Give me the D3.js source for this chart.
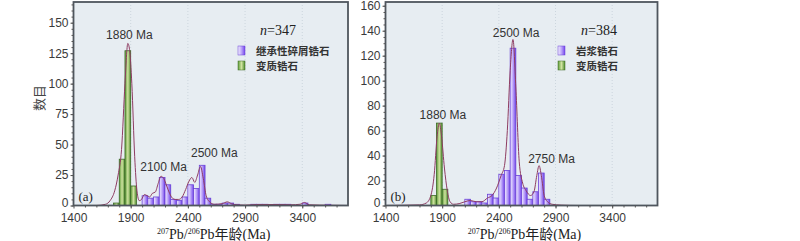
<!DOCTYPE html>
<html>
<head>
<meta charset="utf-8">
<script src="https://cdn.jsdelivr.net/npm/d3@7"></script>
<style>
  body { margin: 0; background: white; }
</style>
</head>
<body>
<div id="container"></div>
<script>
// ---- data ----
let binWidth = 50;

// panel (a)
let metaBinsA = [1750, 1800, 1850, 1900];
let metaCountsA = [2, 38, 127, 16];
let detritalBinsA = [2000, 2050, 2100, 2150, 2200, 2250, 2300, 2350, 2400, 2450, 2500, 2550, 2600, 2650, 2700, 2750, 2800, 2950, 3000, 3050, 3150, 3200, 3250, 3400, 3600];
let detritalCountsA = [8, 6, 7, 23, 17, 5, 4, 7, 17, 14, 33, 6, 1, 1, 2, 2, 1, 1, 1, 1, 1, 1, 1, 2, 1];
let curveAgesA = [1400, 1600, 1680, 1720, 1760, 1790, 1820, 1850, 1875, 1890, 1910, 1935, 1955, 1975, 1995, 2020, 2045, 2065, 2090, 2115, 2140, 2165, 2190, 2215, 2240, 2265, 2290, 2320, 2350, 2380, 2410, 2435, 2460, 2485, 2510, 2535, 2560, 2590, 2630, 2700, 2745, 2780, 2830, 2900, 3000, 3100, 3200, 3300, 3380, 3420, 3460, 3550, 3800];
let curveValuesA = [0, 0, 1, 4, 12, 25, 46, 100, 133, 128, 100, 40, 12, 4, 5, 9, 8, 7, 10, 11, 18, 24, 22, 16, 10, 6, 5, 5, 7, 13, 20, 23, 19, 25, 32, 22, 8, 3, 1, 1.5, 3, 1.5, 0.5, 0.3, 0.8, 0.8, 0.8, 0.6, 1, 2.5, 0.6, 0.3, 0];

// panel (b)
let metaBinsB = [1800, 1850, 1900];
let metaCountsB = [8, 66, 13];
let magmaBinsB = [2100, 2150, 2200, 2250, 2300, 2350, 2400, 2450, 2500, 2550, 2600, 2650, 2700, 2750, 2800];
let magmaCountsB = [5, 3, 3, 2, 9, 6, 25, 28, 126, 24, 14, 5, 11, 26, 5];
let curveAgesB = [1400, 1700, 1760, 1800, 1830, 1855, 1875, 1895, 1920, 1945, 1970, 2000, 2050, 2100, 2150, 2200, 2250, 2300, 2340, 2380, 2420, 2450, 2475, 2500, 2525, 2550, 2580, 2610, 2640, 2680, 2710, 2735, 2755, 2775, 2800, 2830, 2870, 2950, 3100, 3800];
let curveValuesB = [0, 0.5, 2, 8, 25, 55, 66, 55, 30, 12, 3, 1, 1.5, 3, 4, 3, 3, 6, 8, 14, 24, 32, 60, 108, 133, 95, 35, 18, 12, 8, 11, 24, 32, 24, 8, 3, 1, 0.3, 0, 0];

let xTicks = [1400, 1900, 2400, 2900, 3400];
let yTicksA = [0, 25, 50, 75, 100, 125, 150];
let yTicksB = [0, 20, 40, 60, 80, 100, 120, 140, 160];

// ---- svg ----
let w = 800;
let h = 241;

let viz = d3.select("#container")
  .append("svg")
    .attr("width", w)
    .attr("height", h)
    .style("background-color", "white")
;

let defs = viz.append("defs");

function makeGradient(id, stops){
  let g = defs.append("linearGradient")
    .attr("id", id)
    .attr("x1", "0%").attr("x2", "100%")
    .attr("y1", "0%").attr("y2", "0%");
  g.selectAll("stop").data(stops).enter()
    .append("stop")
      .attr("offset", d => d[0])
      .attr("stop-color", d => d[1]);
}
makeGradient("purpleGrad", [["0%", "#f3efff"], ["45%", "#c2acfa"], ["100%", "#7446ec"]]);
makeGradient("greenGrad", [["0%", "#5f9d3a"], ["50%", "#cfe2a0"], ["100%", "#4e8b2c"]]);

function drawPanel(p){
  let x = d3.scaleLinear().domain([1400, 3800]).range([p.left, p.right]);
  let y = d3.scaleLinear().domain([0, p.yMax]).range([p.bottom, p.top]);

  let g = viz.append("g");

  // background
  g.append("rect")
    .attr("x", p.left).attr("y", p.top)
    .attr("width", p.right - p.left).attr("height", p.bottom - p.top)
    .attr("fill", "#e7edf2");

  // dotted vertical grid
  g.selectAll(".grid").data(xTicks.slice(1)).enter()
    .append("line")
      .attr("x1", d => x(d)).attr("x2", d => x(d))
      .attr("y1", p.top).attr("y2", p.bottom)
      .attr("stroke", "#c5cfd8")
      .attr("stroke-width", 0.8)
      .attr("stroke-dasharray", "1,2");

  // bars
  function addBars(bins, counts, fill, stroke){
    let data = bins.map((b, i) => ({ age: b, n: counts[i] }));
    g.selectAll(null).data(data).enter()
      .append("rect")
        .attr("x", d => x(d.age))
        .attr("y", d => y(d.n))
        .attr("width", d => x(d.age + binWidth) - x(d.age))
        .attr("height", d => y(0) - y(d.n))
        .attr("fill", fill)
        .attr("stroke", stroke)
        .attr("stroke-width", 0.8);
  }
  addBars(p.bins2, p.counts2, "url(#purpleGrad)", "#6940d6");
  addBars(p.bins1, p.counts1, "url(#greenGrad)", "#3c6a27");

  // density curve
  let pts = p.curveAges.map((a, i) => [a, p.curveValues[i]]);
  let line = d3.line()
    .x(d => x(d[0]))
    .y(d => y(d[1]))
    .curve(d3.curveMonotoneX);
  g.append("path")
    .attr("d", line(pts))
    .attr("fill", "none")
    .attr("stroke", "#8e3c62")
    .attr("stroke-width", 1);

  // frame
  g.append("rect")
    .attr("x", p.left).attr("y", p.top)
    .attr("width", p.right - p.left).attr("height", p.bottom - p.top)
    .attr("fill", "none")
    .attr("stroke", "#4f565e")
    .attr("stroke-width", 1.8);

  // axes
  let yAxis = g.append("g")
    .attr("transform", "translate(" + p.left + ",0)")
    .call(d3.axisLeft(y).tickValues(p.yTicks).tickSize(3).tickSizeOuter(0).tickPadding(2).tickFormat(d3.format("d")));
  g.append("g")
    .attr("transform", "translate(" + p.left + ",0)")
    .call(d3.axisLeft(y).tickValues(d3.range(0, p.yMax, 5)).tickSize(2).tickSizeOuter(0).tickFormat(""));
  g.append("g")
    .attr("transform", "translate(0," + p.bottom + ")")
    .call(d3.axisBottom(x).tickValues(xTicks).tickSize(3).tickSizeOuter(0).tickPadding(5).tickFormat(d3.format("d")));
  g.append("g")
    .attr("transform", "translate(0," + p.bottom + ")")
    .call(d3.axisBottom(x).tickValues(d3.range(1500, 3800, 100)).tickSize(2).tickSizeOuter(0).tickFormat(""));

  g.selectAll(".domain").remove();
  g.selectAll(".tick line").attr("stroke", "#555");
  g.selectAll(".tick text")
    .attr("fill", "#3a3a3a")
    .style("font-family", "'Liberation Sans', Arial, sans-serif")
    .style("font-size", "12px");
  // the zero label sits a little higher, as in the original
  yAxis.selectAll(".tick text").filter(d => d === 0).attr("dy", "0.05em");

  // x title
  let xt = g.append("text")
    .attr("x", (p.left + p.right) / 2 + 3)
    .attr("y", 238.5)
    .attr("text-anchor", "middle")
    .attr("fill", "#222")
    .style("font-family", "'Liberation Serif', 'Times New Roman', serif")
    .style("font-size", "14px");
  xt.append("tspan").text("207").style("font-size", "8px").attr("dy", -4.5);
  xt.append("tspan").text("Pb/").attr("dy", 4.5);
  xt.append("tspan").text("206").style("font-size", "8px").attr("dy", -4.5);
  xt.append("tspan").text("Pb").attr("dy", 4.5);
  xt.append("tspan").text("年龄").style("font-family", "'Noto Sans CJK SC', serif");
  xt.append("tspan").text("(Ma)");

  // panel letter
  g.append("text")
    .attr("x", p.left + 5).attr("y", 201)
    .text(p.letter)
    .attr("fill", "#222")
    .style("font-family", "'Liberation Serif', serif")
    .style("font-size", "13px");

  // n=
  let nt = g.append("text")
    .attr("x", p.nX).attr("y", 35)
    .attr("text-anchor", "middle")
    .attr("fill", "#222")
    .style("font-family", "'Liberation Serif', serif")
    .style("font-size", "14px");
  nt.append("tspan").text("n").style("font-style", "italic");
  nt.append("tspan").text("=" + p.n);

  // legend
  let leg = [[p.legend2, "url(#purpleGrad)", "#6940d6"], [p.legend1, "url(#greenGrad)", "#3c6a27"]];
  leg.forEach(function(d, i){
    g.append("rect")
      .attr("x", p.legX).attr("y", 46 + i * 15)
      .attr("width", 7).attr("height", 9)
      .attr("fill", d[1])
      .attr("stroke", d[2])
      .attr("stroke-width", 0.5);
    g.append("text")
      .attr("x", p.legX + 18).attr("y", 54.5 + i * 15)
      .text(d[0])
      .attr("fill", "#333")
      .style("font-family", "'Noto Sans CJK SC', sans-serif")
      .style("font-weight", "bold")
      .style("font-size", "10.5px");
  });

  // peak labels: [age, height on y scale, x nudge]
  p.peaks.forEach(function(d){
    g.append("text")
      .attr("x", x(d[0]) + d[2]).attr("y", y(d[1]))
      .attr("text-anchor", "middle")
      .text(d[0] + " Ma")
      .attr("fill", "#333")
      .style("font-family", "'Liberation Sans', Arial, sans-serif")
      .style("font-size", "12px");
  });
}

drawPanel({
  left: 73.5, right: 348, top: 2, bottom: 205.5, yMax: 167,
  bins1: metaBinsA, counts1: metaCountsA,
  bins2: detritalBinsA, counts2: detritalCountsA,
  curveAges: curveAgesA, curveValues: curveValuesA,
  yTicks: yTicksA, letter: "(a)", n: 347, nX: 278, legX: 238,
  legend1: "变质锆石", legend2: "继承性碎屑锆石",
  peaks: [[1880, 137, 1], [2100, 28, 10], [2500, 40, 15]]
});

drawPanel({
  left: 385.5, right: 657.5, top: 2, bottom: 205.5, yMax: 163,
  bins1: metaBinsB, counts1: metaCountsB,
  bins2: magmaBinsB, counts2: magmaCountsB,
  curveAges: curveAgesB, curveValues: curveValuesB,
  yTicks: yTicksB, letter: "(b)", n: 384, nX: 599, legX: 558,
  legend1: "变质锆石", legend2: "岩浆锆石",
  peaks: [[1880, 69, 3], [2500, 135, 6], [2750, 34, 13]]
});

// y title
viz.append("text")
  .attr("transform", "translate(44,98) rotate(-90)")
  .attr("text-anchor", "middle")
  .text("数目")
  .attr("fill", "#444")
  .style("font-family", "'Noto Sans CJK SC', sans-serif")
  .style("font-size", "13px");
</script>
</body>
</html>
